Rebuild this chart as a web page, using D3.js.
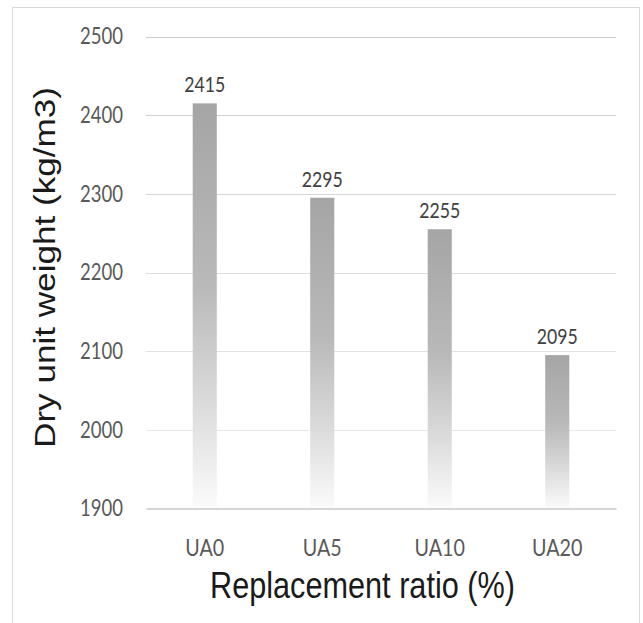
<!DOCTYPE html>
<html><head><meta charset="utf-8">
<script src="https://cdn.jsdelivr.net/npm/d3@7"></script>
<style>body{margin:0;background:#fff}svg{display:block}</style>
</head><body>
<script>
const categories = ["UA0", "UA5", "UA10", "UA20"];
const values = [2415, 2295, 2255, 2095];
const yTicks = [1900, 2000, 2100, 2200, 2300, 2400, 2500];
const xTitle = "Replacement ratio (%)";
const yTitle = "Dry unit weight (kg/m3)";

const W = 643, H = 623;
const S = 1.2; // vertical stretch of the original picture's text
const labelFont = "Lato,'Open Sans',sans-serif";
const titleFont = "'Liberation Sans',Arial,sans-serif";

const svg = d3.select("body").append("svg").attr("width", W).attr("height", H);
const defs = svg.append("defs");

const grad = defs.append("linearGradient").attr("id", "barGrad")
  .attr("x1", 0).attr("y1", 0).attr("x2", 0).attr("y2", 1);
[[0, "#a5a5a5"], [0.45, "#b9b9b9"], [0.75, "#dcdcdc"], [1, "#fbfbfb"]]
  .forEach(([o, c]) => grad.append("stop").attr("offset", o).attr("stop-color", c));

const x = d3.scaleBand().domain(categories).range([146, 616]).paddingInner(0.795).paddingOuter(0.3975);
const y = d3.scaleLinear().domain([1900, 2500]).range([508.5, 36.5]);

const gridGrad = defs.append("linearGradient").attr("id", "gridGrad")
  .attr("gradientUnits", "userSpaceOnUse").attr("x1", 0).attr("x2", 0)
  .attr("y1", y(2500)).attr("y2", y(1900));
[[0, "#cbcbcb"], [1, "#eeeeee"]]
  .forEach(([o, c]) => gridGrad.append("stop").attr("offset", o).attr("stop-color", c));

svg.append("rect").attr("x", 12.5).attr("y", 7.5).attr("width", 627).attr("height", 640)
  .attr("fill", "#fff").attr("stroke", "#d9d9d9").attr("stroke-width", 1);

// fit font size so that the first element of a selection has a given width
function fit(sel, base, target) {
  sel.attr("font-size", base);
  const w = sel.node().getComputedTextLength();
  const fs = base * target / w;
  sel.attr("font-size", fs);
  return fs;
}

// gridlines
svg.append("g").selectAll("line").data(yTicks.filter(d => d !== 1900)).join("line")
  .attr("x1", 146).attr("x2", 616)
  .attr("y1", d => Math.round(y(d)) + 0.5).attr("y2", d => Math.round(y(d)) + 0.5)
  .attr("stroke", "url(#gridGrad)").attr("stroke-width", 1.2);

// y axis labels
const yAxis = d3.axisLeft(y).tickValues(yTicks).tickSize(0).tickPadding(0).tickFormat(d3.format("d"));
const gy = svg.append("g").attr("transform", "translate(123,0)").call(yAxis);
gy.select(".domain").remove();
const yt = gy.selectAll("text").attr("font-family", labelFont).attr("fill", "#595959");
fit(yt, 18, 43);
yt.attr("transform", `scale(1,${S})`).attr("dy", "0.33em").attr("x", 0);

// bars
svg.append("g").selectAll("rect").data(values).join("rect")
  .attr("x", (d, i) => x(categories[i]))
  .attr("width", x.bandwidth())
  .attr("y", d => y(d))
  .attr("height", d => y(1900) - y(d))
  .attr("fill", "url(#barGrad)");

// x axis
const xAxis = d3.axisBottom(x).tickSize(0).tickPadding(0);
const gx = svg.append("g").attr("transform", `translate(0,${y(1900)})`).call(xAxis);
gx.select(".domain").attr("stroke", "#d6d6d6").attr("stroke-width", 2);
const xt = gx.selectAll("text").attr("font-family", labelFont).attr("fill", "#595959");
fit(xt, 18, 39);
xt.attr("dy", 0).attr("y", (556 - y(1900)) / S).attr("transform", `scale(1,${S})`);

// value labels
const vl = svg.append("g").selectAll("g").data(values).join("g")
  .attr("transform", (d, i) => `translate(${x(categories[i]) + x.bandwidth() / 2},${y(d) - 11}) scale(1,${S})`)
  .append("text")
  .attr("text-anchor", "middle")
  .attr("font-family", labelFont).attr("fill", "#404040")
  .text(d => d);
fit(vl, 18, 41);

// titles
const xtTitle = svg.append("g").attr("transform", `translate(362.5,598) scale(1,${S})`)
  .append("text").attr("text-anchor", "middle")
  .attr("font-family", titleFont).attr("fill", "#1a1a1a")
  .text(xTitle);
fit(xtTitle, 24, 305);

const ytTitle = svg.append("g").attr("transform", `translate(55,267.5) scale(1,${S}) rotate(-90)`)
  .append("text").attr("text-anchor", "middle")
  .attr("font-family", titleFont).attr("fill", "#1a1a1a")
  .text(yTitle);
fit(ytTitle, 24, 361 / S);
</script>
</body></html>
